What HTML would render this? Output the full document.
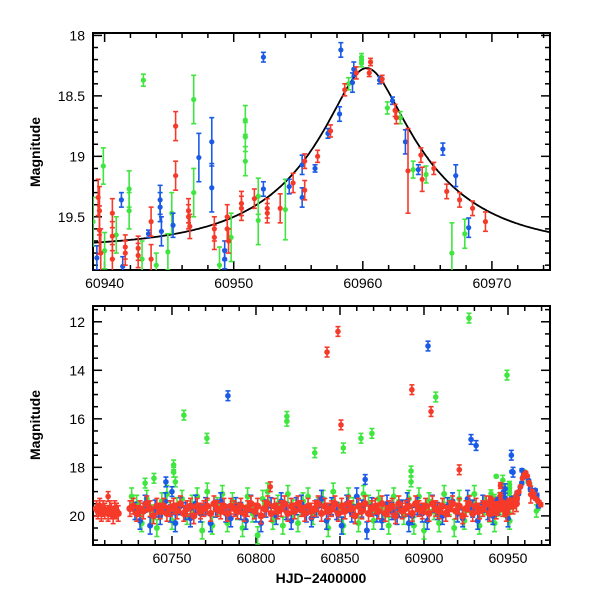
<!DOCTYPE html>
<html><head><meta charset="utf-8"><style>
html,body{margin:0;padding:0;background:#fff}
svg{display:block}
text{font-family:"Liberation Sans",sans-serif}
</style></head><body>
<svg id="chart" width="600" height="600" viewBox="0 0 600 600" xmlns="http://www.w3.org/2000/svg">
<defs>
<clipPath id="clipTop"><rect x="93" y="33" width="457" height="237"/></clipPath>
<clipPath id="clipBot"><rect x="93" y="306" width="457" height="239"/></clipPath>
</defs>
<g id="topPlot"></g>
<g id="botPlot"></g>
<text x="40" y="152" transform="rotate(-90 40 152)" text-anchor="middle" font-size="14" font-weight="bold">Magnitude</text>
<text x="40" y="425" transform="rotate(-90 40 425)" text-anchor="middle" font-size="14" font-weight="bold">Magnitude</text>
<text x="321" y="583" text-anchor="middle" font-size="14" font-weight="bold">HJD−2400000</text>
</svg>
<script>
// ---------- top panel data (day, mag, err) ----------
const topRedT=[60939.5,60939.6,60939.6,60939.7,60940.6,60940.6,60940.6,60941.6,60941.6,60942.6,60942.6,60943.6,60943.6,60945.5,60945.5,60946.5,60946.5,60946.6,60948.5,60948.5,60949.5,60949.5,60949.6,60950.6,60950.6,60951.6,60952.6,60952.6,60953.6,60954.6,60955.5,60955.5,60956.5,60957.5,60958.6,60959.5,60960.5,60960.6,60961.5,60962.5,60962.6,60963.5,60964.5,60964.6,60965.5,60966.5,60967.5,60968.5,60969.5];
const topRedM=[19.34,19.45,19.61,19.80,19.47,19.66,19.85,19.75,19.80,19.76,19.82,19.54,19.85,18.75,19.16,19.45,19.50,19.58,19.67,19.60,19.50,19.60,19.70,19.39,19.43,19.35,19.43,19.47,19.43,19.22,19.28,19.04,19.00,18.79,18.45,18.31,18.31,18.22,18.36,18.62,18.68,19.12,18.99,19.19,19.10,19.29,19.36,19.43,19.54];
const topRedE=[0.15,0.2,0.2,0.2,0.12,0.12,0.12,0.1,0.1,0.1,0.1,0.12,0.12,0.12,0.12,0.1,0.1,0.1,0.1,0.1,0.1,0.1,0.1,0.1,0.1,0.08,0.08,0.08,0.12,0.08,0.08,0.06,0.05,0.05,0.05,0.05,0.03,0.03,0.03,0.05,0.05,0.35,0.06,0.1,0.05,0.06,0.06,0.06,0.08];
const topBlueT=[60939.4,60941.3,60941.4,60943.4,60944.3,60944.3,60944.4,60945.3,60947.3,60948.3,60948.3,60949.3,60949.3,60952.3,60952.3,60954.3,60955.3,60955.3,60956.3,60957.3,60958.2,60958.3,60959.2,60959.3,60961.3,60962.3,60963.3,60964.3,60966.2,60967.2,60968.2];
const topBlueM=[19.84,19.36,19.91,19.64,19.36,19.42,19.62,19.57,19.01,18.88,19.26,19.78,19.85,18.18,19.27,19.25,19.07,19.34,19.10,18.81,18.65,18.12,18.39,18.28,18.37,18.54,18.88,19.11,18.94,19.16,19.59];
const topBlueE=[0.1,0.06,0.08,0.03,0.12,0.12,0.12,0.1,0.2,0.2,0.2,0.08,0.08,0.04,0.06,0.06,0.08,0.08,0.03,0.04,0.06,0.06,0.08,0.06,0.03,0.03,0.1,0.04,0.05,0.09,0.08];
const topGreenT=[60939.1,60939.9,60940.0,60940.9,60941.9,60941.9,60942.9,60943.0,60944.0,60944.9,60945.2,60946.9,60946.9,60948.9,60949.8,60950.9,60950.9,60950.9,60951.9,60951.9,60954.0,60958.9,60959.9,60959.9,60961.9,60962.9,60963.9,60964.9,60966.9,60967.9];
const topGreenM=[19.54,19.08,19.78,19.65,19.27,19.45,19.85,18.37,19.90,19.79,19.47,18.53,19.30,19.90,19.67,18.70,18.84,19.04,19.33,19.53,19.44,18.40,18.18,18.23,18.60,18.68,19.11,19.15,19.80,19.64];
const topGreenE=[0.2,0.15,0.15,0.15,0.15,0.15,0.15,0.05,0.1,0.15,0.17,0.2,0.2,0.15,0.2,0.12,0.12,0.12,0.15,0.2,0.25,0.05,0.03,0.03,0.05,0.05,0.07,0.07,0.25,0.12];

// ---------- bottom panel data ----------
const bulkRedT=[60705,60706,60707,60708,60709,60710,60712,60713,60714,60715,60716,60717,60718,
60725,60727,60729,60731,60733,60735,60737,60739,60741,60743,60745,60747,60749,60751,60753,60755,60757,60759,60761,60763,
60765,60767,60769,60771,60773,60775,60777,60779,60781,60783,60785,60787,60789,60791,60793,60795,60797,60799,60801,60803,
60805,60807,60809,60811,60813,60815,60817,60819,60821,60823,60825,60827,60829,60831,60833,60835,60837,60839,60841,60843,
60845,60847,60849,60851,60853,60855,60857,60859,60861,60863,60865,60867,60869,60871,60873,60875,60877,60879,60881,60883,
60885,60887,60889,60891,60893,60895,60897,60899,60901,60903,60905,60907,60909,60911,60913,60915,60917,60919,60921,60923,
60925,60927,60929,60931,60933,60935,60937,60939,60941,60943,60945,60947,60949,60951,60953,60955];
const bulkRedM=[19.7,19.8,19.6,19.9,19.7,19.8,19.9,19.7,19.8,20.0,19.7,19.8,19.9,
19.7,19.6,19.9,19.7,19.8,19.5,19.7,20.0,19.6,19.8,19.6,19.9,19.7,19.6,19.8,19.5,19.9,19.7,19.6,20.0,
19.6,19.8,19.7,19.6,19.9,19.5,19.7,19.8,19.6,19.9,19.6,19.7,19.8,19.6,19.9,19.7,19.5,19.8,19.6,20.0,
19.7,19.5,19.9,19.6,19.8,19.7,19.5,19.9,19.6,19.8,19.5,19.7,19.9,19.6,19.8,19.7,19.5,19.9,19.6,19.8,
19.7,19.5,19.9,19.6,19.8,19.5,19.7,20.0,19.6,19.8,19.5,19.9,19.7,19.6,19.8,19.5,19.9,19.7,19.6,20.0,
19.5,19.8,19.7,19.6,19.9,19.5,19.7,19.8,19.6,19.9,19.5,19.7,19.8,19.6,19.9,19.7,19.5,19.8,19.6,20.0,
19.7,19.5,19.9,19.6,19.8,19.7,19.5,19.9,19.6,19.8,19.5,19.7,19.9,19.6,19.6,19.5];
const bulkBlueT=[60728,60731,60734,60737,60740,60743,60746,60749,60752,60755,60758,60761,60764,60767,60770,60773,60776,60779,60782,
60785,60788,60791,60794,60797,60800,60803,60806,60809,60812,60815,60818,60821,60824,60827,60830,60833,60836,60839,
60842,60845,60848,60851,60854,60857,60860,60863,60866,60869,60872,60875,60878,60881,60884,60887,60890,60891,60893,
60896,60899,60902,60905,60908,60911,60914,60917,60920,60923,60926,60929,60932,60935,60938,60941,60944,60947,60950];
const bulkBlueM=[19.8,20.2,19.5,20.4,19.7,20.0,19.4,19.9,20.3,19.6,19.8,20.1,19.5,19.9,19.6,20.3,19.7,19.4,19.9,
20.1,19.6,19.8,20.2,19.5,19.9,20.3,19.7,19.6,20.0,19.4,19.8,20.2,19.6,19.5,19.9,20.1,19.7,19.3,
20.2,19.6,19.8,20.4,19.5,19.9,19.2,19.7,20.6,19.6,19.9,20.2,19.5,19.8,20.0,19.7,19.4,20.3,20.0,
19.6,19.9,20.2,19.5,19.8,20.0,19.6,19.4,19.9,20.1,19.3,19.7,20.2,19.5,19.8,20.0,19.6,19.2,20.1];
const bulkGreenT=[60726,60729,60732,60735,60738,60741,60744,60747,60750,60753,60756,60759,60762,60765,60768,60771,60774,60777,60780,
60783,60786,60789,60792,60795,60798,60801,60804,60807,60810,60813,60816,60819,60822,60825,60828,60831,60834,60837,
60840,60843,60846,60849,60852,60855,60858,60861,60864,60867,60870,60873,60876,60879,60882,60885,60888,60891,60894,
60897,60900,60903,60906,60909,60912,60915,60918,60921,60924,60927,60930,60933,60936,60939,60942,60945,60948,60951];
const bulkGreenM=[19.2,19.5,20.3,19.3,19.9,20.5,19.4,19.1,20.2,19.6,19.3,20.0,19.5,19.2,20.6,19.0,20.4,19.6,19.1,
20.3,19.4,19.8,20.5,19.2,19.9,20.8,19.3,19.0,20.2,19.5,20.4,19.1,19.7,20.3,19.4,19.2,20.0,19.6,
19.3,20.5,19.0,19.8,20.4,19.2,19.6,20.3,19.1,19.5,20.2,19.3,19.9,20.4,19.2,19.7,20.0,19.3,20.4,
19.2,20.6,19.4,19.8,20.3,19.1,19.6,20.5,19.3,20.2,19.5,19.1,20.4,19.6,19.9,20.3,19.4,19.3,20.2];
const outRedT=[60712,60808.5,60842.3,60848.8,60850.6,60892.8,60904.2,60921];
const outRedM=[19.2,18.8,13.25,12.4,16.25,14.8,15.7,18.1];
const outBlueT=[60746.4,60750,60783.3,60865,60902.4,60928,60931,60952,60953];
const outBlueM=[18.6,19.0,15.05,18.5,13.0,16.85,17.1,17.5,18.2];
const outGreenT=[60734,60739.3,60751,60751,60752,60757.1,60770.8,60818.4,60818.4,60835,60852,60862.5,60869,60892.3,60892.3,60907,60926.8,60949.4];
const outGreenM=[18.65,18.45,17.9,18.2,18.6,15.85,16.8,15.9,16.1,17.4,17.2,16.8,16.6,18.15,18.6,15.1,11.85,14.2];

// ---------- model curve parameters ----------
const modelT0=60960.3, modelTE=9.5, modelU0=0.26, modelBase=19.76;

const RED="#f63a2a", BLUE="#1a5ae6", GREEN="#3fe63f";
const NS="http://www.w3.org/2000/svg";
function mk(tag,attrs,parent){const e=document.createElementNS(NS,tag);for(const k in attrs)e.setAttribute(k,attrs[k]);parent.appendChild(e);return e;}

function makeAxes(g,box,xr,yr,xMaj,xMin,yMaj,yMin,yLabels,prefix){
  const sx=d=>box.x+(d-xr[0])/(xr[1]-xr[0])*box.w;
  const sy=m=>box.y+(m-yr[0])/(yr[1]-yr[0])*box.h;
  const frame=mk('rect',{x:box.x,y:box.y,width:box.w,height:box.h,fill:'none',stroke:'#000','stroke-width':2},g);
  
  
  const ticks=mk('g',{stroke:'#000','stroke-width':1.5},g);
  
  
  const eps=1e-6;
  for(let v=Math.ceil(xr[0]/xMin)*xMin; v<=xr[1]+eps; v+=xMin){
    const major=Math.abs(v/xMaj-Math.round(v/xMaj))<eps; const L=major?9:5; const x=sx(v);
    mk('line',{x1:x,y1:box.y+box.h,x2:x,y2:box.y+box.h-L},ticks);
    mk('line',{x1:x,y1:box.y,x2:x,y2:box.y+L},ticks);
    if(major){const t=mk('text',{x:x,y:box.y+box.h+18,'text-anchor':'middle','font-size':14,stroke:'none'},g);t.textContent=Math.round(v);
      
      }
  }
  for(let v=Math.ceil(yr[0]/yMin-eps)*yMin; v<=yr[1]+eps; v+=yMin){
    const major=Math.abs(v/yMaj-Math.round(v/yMaj))<eps; const L=major?9:5; const y=sy(v);
    mk('line',{x1:box.x,y1:y,x2:box.x+L,y2:y},ticks);
    mk('line',{x1:box.x+box.w,y1:y,x2:box.x+box.w-L,y2:y},ticks);
  }
  yLabels.forEach(v=>{const t=mk('text',{x:box.x-8,y:sy(v)+5,'text-anchor':'end','font-size':14},g);t.textContent=v;
    
    });
  return {sx,sy};
}

function drawSeries(g,sc,T,M,E,color,name,r){
  const sg=mk('g',{fill:color,stroke:color,'stroke-width':1.6},g);
  
  
  for(let i=0;i<T.length;i++){
    const x=sc.sx(T[i]), y=sc.sy(M[i]); const e=Array.isArray(E)?E[i]:E;
    const y1=sc.sy(M[i]-e), y2=sc.sy(M[i]+e);
    mk('line',{x1:x,y1:y1,x2:x,y2:y2},sg);
    mk('line',{x1:x-2.5,y1:y1,x2:x+2.5,y2:y1},sg);
    mk('line',{x1:x-2.5,y1:y2,x2:x+2.5,y2:y2},sg);
    const c=mk('circle',{cx:x,cy:y,r:r,stroke:'none'},sg);
    
    
  }
}
function modelMag(t){const u=Math.sqrt(modelU0*modelU0+((t-modelT0)/modelTE)**2);const A=(u*u+2)/(u*Math.sqrt(u*u+4));return modelBase-2.5*Math.log10(A);}

// top panel
const gT=document.getElementById('topPlot');
const scT=makeAxes(gT,{x:93,y:33,w:457,h:237},[60939.1,60974.5],[17.98,19.94],10,2,0.5,0.1,[18,18.5,19,19.5],'top');
const cT=mk('g',{'clip-path':'url(#clipTop)'},gT);
let d='';for(let t=60939;t<=60975;t+=0.1){d+=(d?'L':'M')+scT.sx(t).toFixed(1)+' '+scT.sy(modelMag(t)).toFixed(1);}
const curve=mk('path',{d:d,fill:'none',stroke:'#000','stroke-width':1.8},cT);


drawSeries(cT,scT,topGreenT,topGreenM,topGreenE,GREEN,'green-series',2.6);
drawSeries(cT,scT,topBlueT,topBlueM,topBlueE,BLUE,'blue-series',2.6);
drawSeries(cT,scT,topRedT,topRedM,topRedE,RED,'red-series',2.6);

// bottom panel
const gB=document.getElementById('botPlot');
const scB=makeAxes(gB,{x:93,y:306,w:457,h:239},[60703,60975],[11.35,21.2],50,10,2,0.5,[12,14,16,18,20],'bottom');
const cB=mk('g',{'clip-path':'url(#clipBot)'},gB);
drawSeries(cB,scB,bulkGreenT,bulkGreenM,0.35,GREEN,'green-bulk',3);
drawSeries(cB,scB,outGreenT,outGreenM,0.2,GREEN,'green-outliers',2.8);
drawSeries(cB,scB,topGreenT,topGreenM,topGreenE,GREEN,'green-recent',2.8);
drawSeries(cB,scB,bulkBlueT,bulkBlueM,0.35,BLUE,'blue-bulk',3);
drawSeries(cB,scB,outBlueT,outBlueM,0.2,BLUE,'blue-outliers',2.8);
drawSeries(cB,scB,topBlueT,topBlueM,topBlueE,BLUE,'blue-recent',2.8);
drawSeries(cB,scB,bulkRedT,bulkRedM,0.32,RED,'red-bulk',3.6);
drawSeries(cB,scB,outRedT,outRedM,0.2,RED,'red-outliers',2.8);
drawSeries(cB,scB,topRedT,topRedM,topRedE,RED,'red-recent',2.8);
</script>
</body></html>
